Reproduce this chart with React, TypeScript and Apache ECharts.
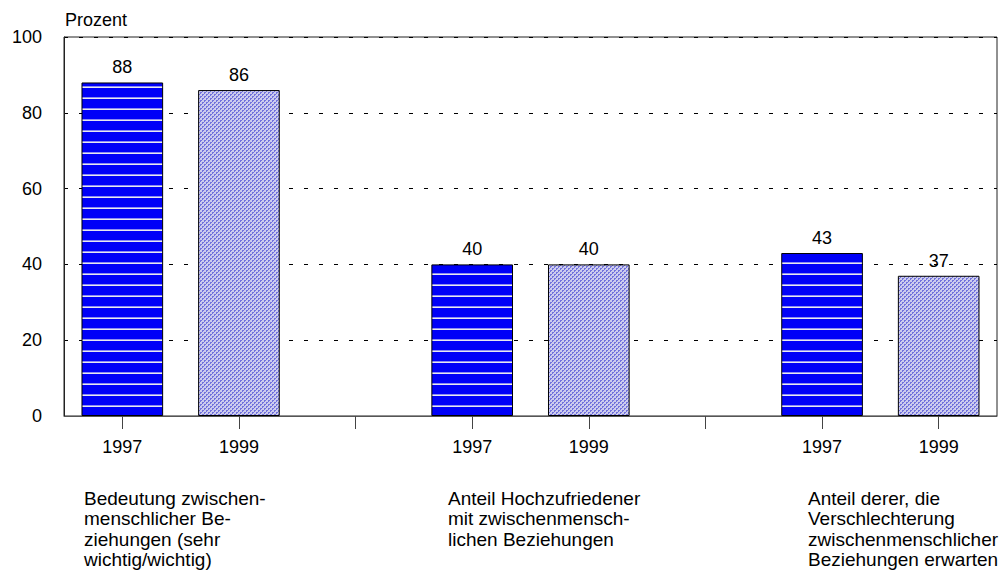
import React, { useEffect, useRef } from "react";
import * as echarts from "echarts";

const categories = ["1997", "1999", "", "1997", "1999", "", "1997", "1999"];
const values: (number | string)[] = [88, 86, "-", 40, 40, "-", 43, 37];
const yearKinds = ["1997", "1999", "", "1997", "1999", "", "1997", "1999"];
const yTicks = [0, 20, 40, 60, 80, 100];
const groupTexts = [
  "Bedeutung zwischen-\nmenschlicher Be-\nziehungen (sehr\nwichtig/wichtig)",
  "Anteil Hochzufriedener\nmit zwischenmensch-\nlichen Beziehungen",
  "Anteil derer, die\nVerschlechterung\nzwischenmenschlicher\nBeziehungen erwarten",
];
const yAxisTitle = "Prozent";

function stripeCanvas(): HTMLCanvasElement {
  const c = document.createElement("canvas");
  c.width = 4;
  c.height = 11;
  const ctx = c.getContext("2d")!;
  ctx.fillStyle = "#0000f8";
  ctx.fillRect(0, 0, 4, 11);
  ctx.fillStyle = "#8c8cf4";
  ctx.fillRect(0, 9, 4, 1);
  ctx.fillStyle = "#e8e8f0";
  ctx.fillRect(0, 10, 4, 1);
  return c;
}

function dotCanvas(): HTMLCanvasElement {
  const c = document.createElement("canvas");
  c.width = 4;
  c.height = 4;
  const ctx = c.getContext("2d")!;
  const light = "#ccccee";
  const dark = "#7272dc";
  const grid = [
    [dark, dark, light, light],
    [dark, light, light, light],
    [light, light, dark, dark],
    [light, light, dark, light],
  ];
  for (let y = 0; y < 4; y++)
    for (let x = 0; x < 4; x++) {
      ctx.fillStyle = grid[y][x];
      ctx.fillRect(x, y, 1, 1);
    }
  return c;
}

export default function App() {
  const ref = useRef<HTMLDivElement>(null);
  useEffect(() => {
    if (!ref.current) return;
    const chart = echarts.init(ref.current, undefined, { renderer: "svg" });
    const stripe = { image: stripeCanvas(), repeat: "repeat" } as any;
    const dots = { image: dotCanvas(), repeat: "repeat" } as any;
    const font = "'Liberation Sans', Arial, sans-serif";
    const data = values.map((v, i) => ({
      value: v,
      itemStyle: {
        color: yearKinds[i] === "1997" ? stripe : dots,
        borderColor: "#000",
        borderWidth: 1,
      },
    }));
    const groupX = [84, 448, 808];
    chart.setOption({
      animation: false,
      textStyle: { fontFamily: font },
      grid: {
        left: 64,
        right: 5,
        top: 37,
        bottom: 154,
        show: true,
        borderColor: "#222",
        borderWidth: 1,
        backgroundColor: "transparent",
      },
      xAxis: {
        type: "category",
        data: categories,
        boundaryGap: true,
        axisLine: { show: true, lineStyle: { color: "#555", width: 1 } },
        axisTick: { show: true, alignWithLabel: true, length: 13, lineStyle: { color: "#444" } },
        axisLabel: { color: "#000", fontSize: 18, margin: 22, fontFamily: font },
        splitLine: { show: false },
      },
      yAxis: {
        type: "value",
        min: 0,
        max: 100,
        interval: 20,
        axisLine: { show: true, lineStyle: { color: "#222" } },
        axisTick: { show: false },
        axisLabel: {
          color: "#000",
          fontSize: 18,
          margin: 22,
          fontFamily: font,
          formatter: (v: number) => (yTicks.includes(v) ? String(v) : ""),
        },
        splitLine: {
          show: true,
          lineStyle: { color: "#000", width: 1, type: [4, 11] },
        },
      },
      series: [
        {
          type: "bar",
          data,
          barWidth: "70%",
          label: {
            show: true,
            position: "top",
            distance: 6,
            color: "#000",
            fontSize: 18,
            fontFamily: font,
          },
        },
      ],
      graphic: [
        {
          type: "text",
          left: 65,
          top: 11,
          style: { text: yAxisTitle, fill: "#000", font: `18px ${font}` },
        },
        ...groupTexts.map((t, i) => ({
          type: "text",
          left: groupX[i],
          top: 488,
          style: {
            text: t,
            fill: "#000",
            font: `19px ${font}`,
            lineHeight: 20.5,
          },
        })),
      ],
    });
    return () => chart.dispose();
  }, []);
  return (
    <div
      ref={ref}
      style={{ position: "absolute", left: 0, top: 0, width: 1002, height: 570, background: "#fff" }}
    />
  );
}
